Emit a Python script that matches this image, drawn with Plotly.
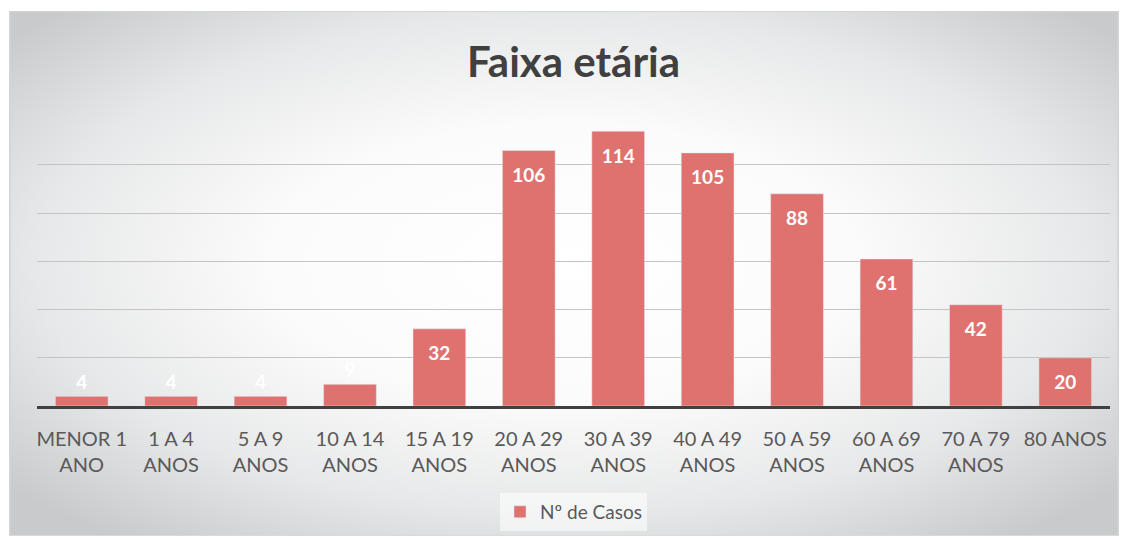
import base64

import plotly.graph_objects as go

FAIXAS = [
    "MENOR 1<br>ANO",
    "1 A 4<br>ANOS",
    "5 A 9<br>ANOS",
    "10 A 14<br>ANOS",
    "15 A 19<br>ANOS",
    "20 A 29<br>ANOS",
    "30 A 39<br>ANOS",
    "40 A 49<br>ANOS",
    "50 A 59<br>ANOS",
    "60 A 69<br>ANOS",
    "70 A 79<br>ANOS",
    "80 ANOS",
]
CASOS = [4, 4, 4, 9, 32, 106, 114, 105, 88, 61, 42, 20]
SERIE = "Nº de Casos"

# the page body adds 8px on every side, so keep the figure inside the window
W, H = 1111, 532
MARGIN = dict(l=29, r=9, t=108, b=131)
BAR_COLOR = "rgb(223,114,111)"
FONT = "Lato, 'Open Sans', sans-serif"
SMALL = 15  # labels of shorter bars sit above the bar

# radial grey-to-white backdrop, like the office chart style
BG_SVG = """<svg xmlns='http://www.w3.org/2000/svg' width='100' height='100' preserveAspectRatio='none'>
<defs><radialGradient id='g' cx='50%' cy='48%' r='66%'>
<stop offset='0%' stop-color='#ffffff'/>
<stop offset='40%' stop-color='#fbfbfb'/>
<stop offset='72%' stop-color='#e7e8e9'/>
<stop offset='100%' stop-color='#c8cacc'/>
</radialGradient></defs>
<rect width='100' height='100' fill='url(#g)' stroke='#d4d4d4' stroke-width='0.3'/>
</svg>"""
bg_src = "data:image/svg+xml;base64," + base64.b64encode(BG_SVG.encode()).decode()

plot_w = W - MARGIN["l"] - MARGIN["r"]
plot_h = H - MARGIN["t"] - MARGIN["b"]
frame_left, frame_top = 1, 2
x0 = (frame_left - MARGIN["l"]) / plot_w
x1 = (W - MARGIN["l"]) / plot_w
y_top = (H - MARGIN["b"] - frame_top) / plot_h
y_bot = -MARGIN["b"] / plot_h

label_font = dict(family=FONT, size=19, color="white", weight="bold")

fig = go.Figure()
fig.add_trace(
    go.Bar(
        x=FAIXAS,
        y=CASOS,
        name=SERIE,
        marker_color=BAR_COLOR,
        width=0.59,
        text=[str(v) if v < SMALL else "" for v in CASOS],
        textposition="outside",
        textfont=label_font,
        cliponaxis=False,
        showlegend=True,
        hoverinfo="x+y",
    )
)
# labels inside the taller bars, a little below the top like the original
fig.add_trace(
    go.Scatter(
        x=FAIXAS,
        y=CASOS,
        mode="markers+text",
        text=[str(v) if v >= SMALL else "" for v in CASOS],
        textposition="bottom center",
        textfont=label_font,
        marker=dict(size=26, opacity=0),
        showlegend=False,
        hoverinfo="skip",
        cliponaxis=False,
    )
)

fig.update_layout(
    width=W,
    height=H,
    margin=MARGIN,
    paper_bgcolor="white",
    plot_bgcolor="rgba(0,0,0,0)",
    font=dict(family=FONT, color="#595959"),
    title=dict(
        text="Faixa etária",
        x=0.5,
        xref="paper",
        y=1 - 54 / H,
        yanchor="middle",
        font=dict(family=FONT, size=42, color="#404040", weight="bold"),
    ),
    xaxis=dict(
        range=[-0.5, len(FAIXAS) - 0.5],
        showgrid=False,
        showline=True,
        linecolor="#404040",
        linewidth=3,
        ticks="",
        ticklabelstandoff=13,
        tickfont=dict(size=20, color="#595959"),
        fixedrange=True,
    ),
    yaxis=dict(
        range=[0, 120.3],
        tick0=0,
        dtick=20,
        showticklabels=False,
        showgrid=True,
        gridcolor="#c4c4c4",
        gridwidth=1.3,
        zeroline=False,
        fixedrange=True,
    ),
    legend=dict(
        orientation="h",
        x=0.5,
        xanchor="center",
        y=(H - MARGIN["b"] - 508) / plot_h,
        yanchor="middle",
        bgcolor="rgba(255,255,255,0.55)",
        font=dict(size=19, color="#595959"),
        itemwidth=30,
    ),
    images=[
        dict(
            source=bg_src,
            xref="paper",
            yref="paper",
            x=x0,
            y=y_top,
            sizex=x1 - x0,
            sizey=y_top - y_bot,
            xanchor="left",
            yanchor="top",
            sizing="stretch",
            layer="below",
        )
    ],
)

fig.write_html("out.html")
